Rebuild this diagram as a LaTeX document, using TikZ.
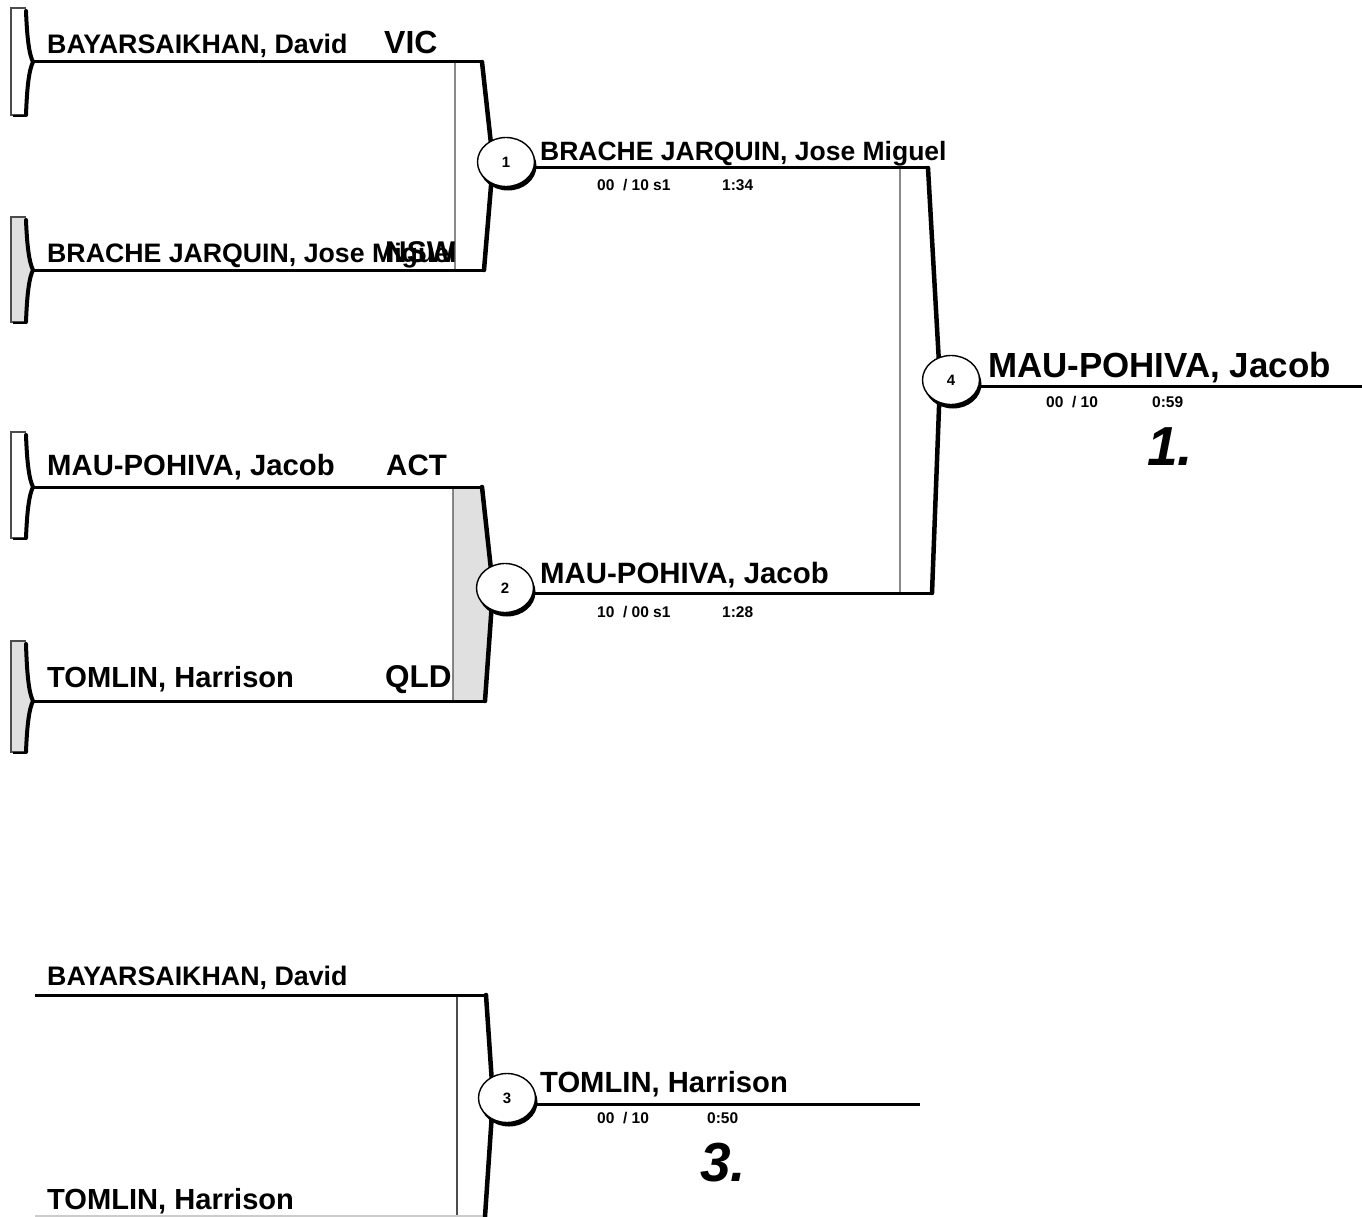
\documentclass[tikz,border=0pt]{standalone}
\usepackage{fontspec}
\setmainfont{Liberation Sans}
\usetikzlibrary{shapes.geometric,shadows}
\definecolor{lightfill}{gray}{0.88}
\tikzset{
  entry/.style={line width=3pt, line cap=butt},
  thinedge/.style={line width=1.3pt, draw=black!70},
  boldedge/.style={line width=4.5pt, line cap=round, line join=round},
  bracketbox/.style={fill=#1, draw=black!70, line width=1.3pt},
  match/.style={ellipse, draw, fill=white, line width=1.4pt, minimum width=57pt, minimum height=49pt, inner sep=0pt,
    font=\bfseries\fontsize{15}{15}\selectfont,
    drop shadow={shadow xshift=2pt, shadow yshift=-4pt, fill=black, opacity=1}},
  lbl/.style={anchor=base west, inner sep=0pt, font=\bfseries\fontsize{#1}{#1}\selectfont},
  score/.style={anchor=base west, inner sep=0pt, font=\bfseries\fontsize{15.5}{15.5}\selectfont},
  place/.style={anchor=base west, inner sep=0pt, font=\bfseries\itshape\fontsize{55}{55}\selectfont}
}
\newcommand\pennantshape[4]{%
  \fill[#4] (11,#1) -- (26,#1) .. controls (27,#2-25) and (29,#2-8) .. (33,#2) .. controls (29,#2+8) and (27,#2+25) .. (26,#3) -- (11,#3) -- cycle;
  \draw[thinedge] (26,#1) -- (11,#1) -- (11,#3) -- (26,#3);
  \draw[boldedge, line width=4pt] (26,#1+3) .. controls (27,#2-25) and (29,#2-8) .. (33,#2) .. controls (29,#2+8) and (27,#2+25) .. (26,#3);
  \draw[line width=2pt] (13,#3+1) -- (26,#3+1);
}
\begin{document}
\begin{tikzpicture}[x=1pt,y=-1pt]
\useasboundingbox (0,0) rectangle (1362,1217);

% pennants
\pennantshape{8}{62}{115}{white}
\pennantshape{217}{270}{322}{lightfill}
\pennantshape{432}{487}{538}{white}
\pennantshape{641}{701}{752}{lightfill}

% coordinates
\coordinate (p1) at (33,62);
\coordinate (p2) at (33,270);
\coordinate (p3) at (33,487);
\coordinate (p4) at (33,701);
\coordinate (p5) at (35,995);
\coordinate (p6) at (35,1216.5);

\coordinate (b1tl) at (455,62);  \coordinate (b1tr) at (482,62);  \coordinate (b1m) at (493,162);  \coordinate (b1br) at (484,270);  \coordinate (b1bl) at (455,270);
\coordinate (b2tl) at (453,487); \coordinate (b2tr) at (482,487); \coordinate (b2m) at (493,588);  \coordinate (b2br) at (485,701);  \coordinate (b2bl) at (453,701);
\coordinate (ftl) at (900,168);  \coordinate (ftr) at (928,168);  \coordinate (fm) at (940,381);   \coordinate (fbr) at (932,593);   \coordinate (fbl) at (900,593);
\coordinate (b3tl) at (457,995); \coordinate (b3tr) at (486,995); \coordinate (b3m) at (493,1098); \coordinate (b3br) at (485,1216.5); \coordinate (b3bl) at (457,1216.5);
\coordinate (fout) at (1362,386);
\coordinate (o3) at (920,1104);

% brackets
\path[bracketbox=white] (b1tl) -- (b1tr) -- (b1m) -- (b1br) -- (b1bl) -- cycle;
\path[bracketbox=lightfill] (b2tl) -- (b2tr) -- (b2m) -- (b2br) -- (b2bl) -- cycle;
\path[bracketbox=white] (ftl) -- (ftr) -- (fm) -- (fbr) -- (fbl) -- cycle;
\path[fill=white] (b3tl) -- (b3tr) -- (b3m) -- (b3br) -- (b3bl) -- cycle;
\draw[thinedge] (b3bl) -- (b3tl) -- (b3tr);

% entry lines
\draw[entry] (p1) -- (b1tr);
\draw[entry] (p2) -- (b1br);
\draw[entry] (p3) -- (b2tr);
\draw[entry] (p4) -- (b2br);
\draw[entry] (p5) -- (b3tr);
\draw[entry, draw=black!20] (p6) -- (b3br);

% bold right edges
\draw[boldedge] (b1tr) -- (b1m) -- (b1br);
\draw[boldedge] (b2tr) -- (b2m) -- (b2br);
\draw[boldedge] (ftr) -- (fm) -- (fbr);
\draw[boldedge] (b3tr) -- (b3m) -- (b3br);

% match circles
\node[match] (m1) at (506,162) {1};
\node[match] (m2) at (505,588) {2};
\node[match] (m4) at (951,380) {4};
\node[match] (m3) at (507,1098) {3};

% output lines
\draw[entry] (m1.east |- ftr) -- (ftr);
\draw[entry] (m2.east |- fbr) -- (fbr);
\draw[entry] (m4.east |- fout) -- (fout);
\draw[entry] (m3.east |- o3) -- (o3);

% entrant names
\node[lbl=26.8] (n1) at (47,54) {BAYARSAIKHAN, David};
\node[lbl=32] (c1) at (384,54) {VIC};
\node[lbl=26.7] (n2) at (47,262) {BRACHE JARQUIN, Jose Miguel};
\node[lbl=30] (c2) at (385,262) {NSW};
\node[lbl=29.3] (n3) at (47,475) {MAU-POHIVA, Jacob};
\node[lbl=29.5] (c3) at (386,475) {ACT};
\node[lbl=29.1] (n4) at (47,687) {TOMLIN, Harrison};
\node[lbl=31.5] (c4) at (385,687) {QLD};

% winners
\node[lbl=26.5] (w1) at (540,161) {BRACHE JARQUIN, Jose Miguel};
\node[score] (s1) at (597,191) {00\ \ / 10 s1};
\node[score] (t1) at (722,191) {1:34};
\node[lbl=29.4] (w2) at (540,583) {MAU-POHIVA, Jacob};
\node[score] (s2) at (597,617) {10\ \ / 00 s1};
\node[score] (t2) at (722,617) {1:28};
\node[lbl=34.9] (w4) at (988,377) {MAU-POHIVA, Jacob};
\node[score] (s4) at (1046,407) {00\ \ / 10};
\node[score] (t4) at (1152,407) {0:59};
\node[place] (r1) at (1147,465) {1.};

% bronze
\node[lbl=26.8] (n5) at (47,985) {BAYARSAIKHAN, David};
\node[lbl=29.1] (n6) at (47,1209) {TOMLIN, Harrison};
\node[lbl=29.2] (w3) at (540,1092) {TOMLIN, Harrison};
\node[score] (s3) at (597,1123) {00\ \ / 10};
\node[score] (t3) at (707,1123) {0:50};
\node[place] (r3) at (700,1181) {3.};
\end{tikzpicture}
\end{document}
